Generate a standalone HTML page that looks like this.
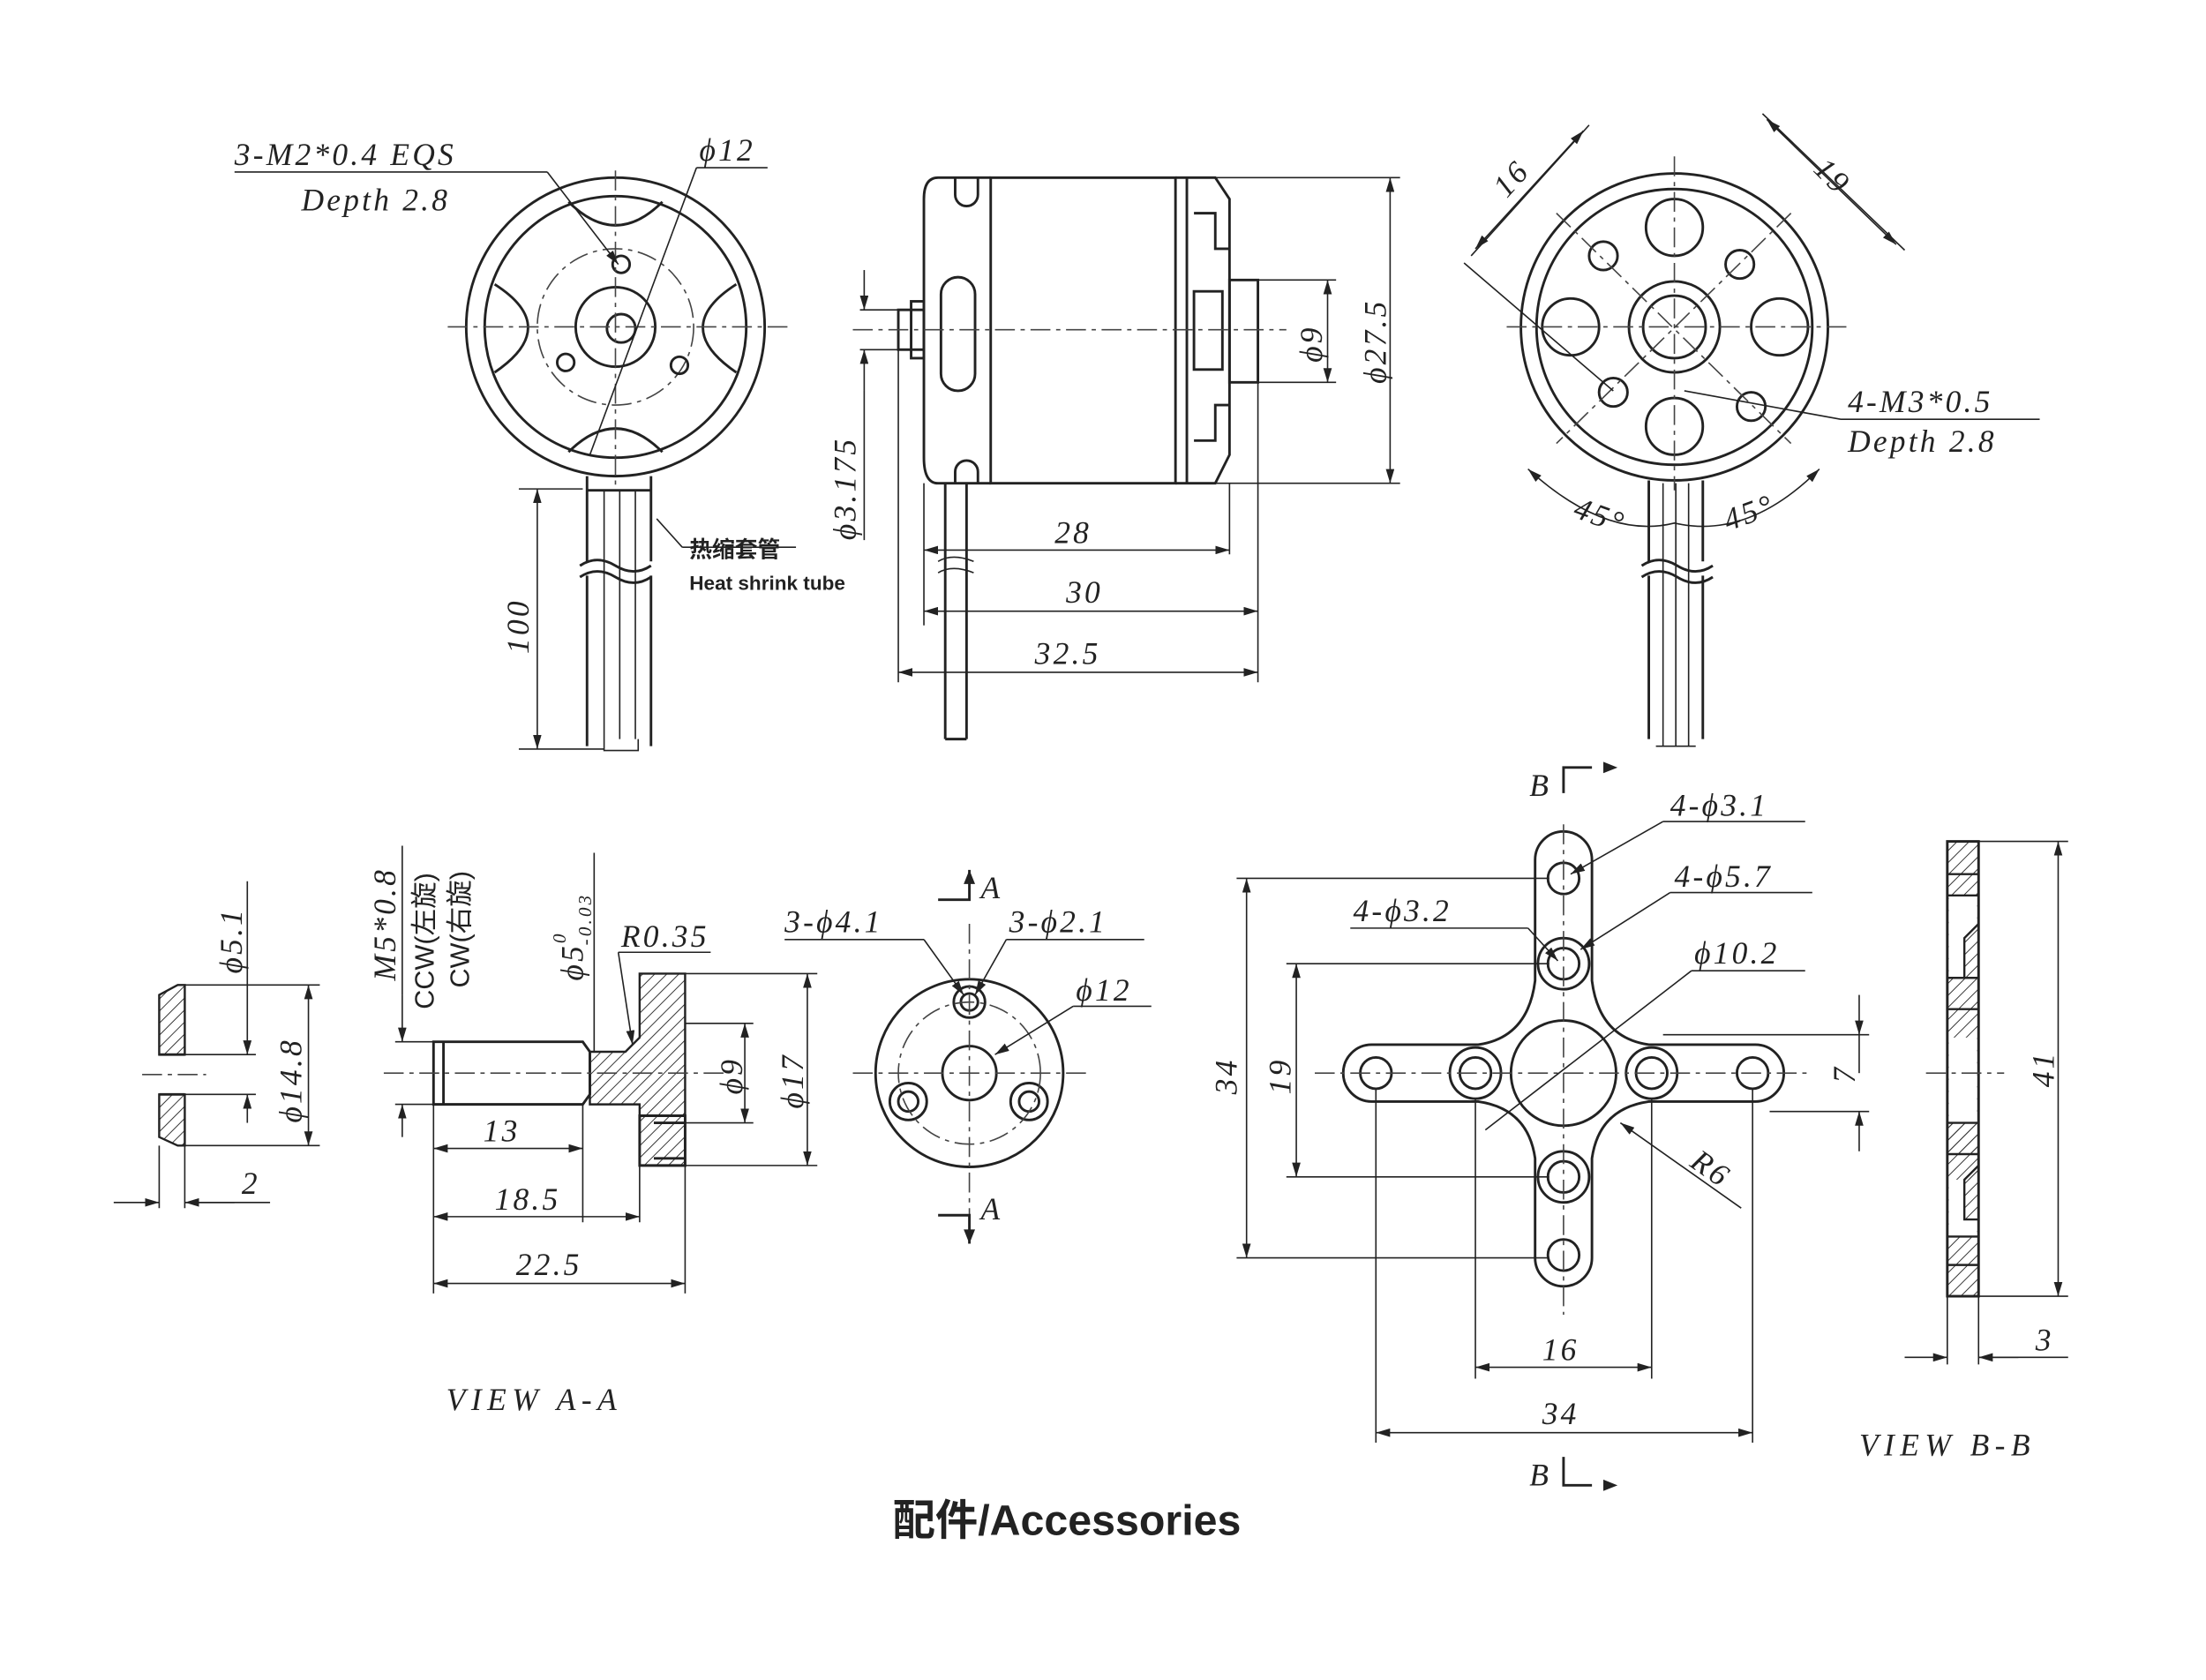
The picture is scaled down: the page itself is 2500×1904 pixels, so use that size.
<!DOCTYPE html>
<html><head><meta charset="utf-8"><style>
html,body{margin:0;padding:0;background:#fff}
svg{display:block}
text{font-family:"Liberation Serif","Noto Serif CJK SC",serif;font-style:italic;font-size:22px;fill:#222;letter-spacing:2px}
.c{fill:none;stroke:#222;stroke-width:1.8}
.t{fill:none;stroke:#222;stroke-width:1}
.d{fill:none;stroke:#444;stroke-width:1;stroke-dasharray:14 4 3 4}
.h{fill:url(#hatch);stroke:#222;stroke-width:1.5}
</style></head><body>
<svg width="2500" height="1904" viewBox="0 0 1552 1182" xmlns="http://www.w3.org/2000/svg">
<defs>
<pattern id="hatch" width="6" height="6" patternUnits="userSpaceOnUse" patternTransform="rotate(45)"><line x1="0" y1="0" x2="0" y2="6" stroke="#333" stroke-width="1.2"/></pattern>
<marker id="a" markerWidth="10" markerHeight="6" refX="10" refY="3" orient="auto-start-reverse"><path d="M0,0 L10,3 L0,6z" fill="#222"/></marker>
</defs>

<!-- FRONT VIEW -->
<g>
<circle class="c" cx="433" cy="230" r="105"/>
<circle class="c" cx="433" cy="230" r="92"/>
<circle class="d" cx="433" cy="230" r="55"/>
<circle class="c" cx="433" cy="230" r="28"/>
<circle class="c" cx="437" cy="231" r="10"/>
<path class="c" d="M400,142 Q433,175 466,142 M348,200 Q395,230 348,262 M518,200 Q471,230 518,262 M400,318 Q433,285 466,318"/>
<circle class="c" cx="437" cy="186" r="6"/><circle class="c" cx="398" cy="255" r="6"/><circle class="c" cx="478" cy="257" r="6"/>
<line class="d" x1="315" y1="230" x2="555" y2="230"/><line class="d" x1="433" y1="120" x2="433" y2="345"/>
<path class="c" d="M413,335 V345 H458 V335 M413,345 V395 M458,345 V395 M413,405 V525 M458,405 V525"/>
<path class="t" d="M425,345 V520 M436,345 V520 M447,345 V520 M425,520 V528 H449 V520"/>
<path class="c" d="M408,398 q12,-8 25,0 t25,0 M408,406 q12,-8 25,0 t25,0"/>
<line class="t" x1="365" y1="344" x2="410" y2="344"/><line class="t" x1="365" y1="527" x2="425" y2="527"/>
<line class="t" x1="378" y1="344" x2="378" y2="527" marker-start="url(#a)" marker-end="url(#a)"/>
<text transform="translate(372,460) rotate(-90)">100</text>
<line class="t" x1="165" y1="121" x2="385" y2="121"/><line class="t" x1="385" y1="121" x2="435" y2="186" marker-end="url(#a)"/>
<text x="165" y="116">3-M2*0.4 EQS</text><text x="212" y="148">Depth 2.8</text>
<line class="t" x1="490" y1="118" x2="540" y2="118"/><line class="t" x1="490" y1="118" x2="415" y2="320" />
<text x="492" y="113">ϕ12</text>
<line class="t" x1="462" y1="365" x2="480" y2="385"/><line class="t" x1="480" y1="385" x2="560" y2="385"/>
<text x="485" y="392" style="font-family:'Liberation Sans','Noto Sans CJK SC',sans-serif;font-style:normal;font-weight:bold;font-size:16px;letter-spacing:0">热缩套管</text>
<text x="485" y="415" style="font-family:'Liberation Sans',sans-serif;font-style:normal;font-weight:bold;font-size:14px;letter-spacing:0">Heat shrink tube</text>
</g>

<!-- SIDE VIEW -->
<g>
<rect class="c" x="697" y="125" width="130" height="215"/>
<path class="c" d="M697,125 H660 Q650,125 650,140 V322 Q650,340 660,340 H697"/>
<path class="c" d="M672,125 v12 a8,8 0 0 0 16,0 v-12 M672,340 v-8 a8,8 0 0 1 16,0 v8"/>
<rect class="c" x="662" y="195" width="24" height="80" rx="12"/>
<path class="c" d="M827,125 H855 L865,140 V320 L855,340 H827 M835,125 V340"/>
<rect class="c" x="865" y="197" width="20" height="72"/>
<path class="c" d="M840,150 h15 v25 h10 M840,310 h15 v-25 h10 M840,205 h20 v55 h-20z"/>
<rect class="c" x="632" y="218" width="18" height="28"/>
<rect class="c" x="641" y="212" width="9" height="40"/>
<line class="d" x1="600" y1="232" x2="905" y2="232"/>
<path class="c" d="M665,340 V520 M680,340 V520 M665,520 H680"/>
<path class="t" d="M660,395 q10,-6 25,0 M660,403 q10,-6 25,0"/>
<path class="t" d="M605,218 H632 M605,246 H632"/>
<line class="t" x1="608" y1="190" x2="608" y2="218" marker-end="url(#a)"/><line class="t" x1="608" y1="275" x2="608" y2="246" marker-end="url(#a)"/>
<line class="t" x1="608" y1="275" x2="608" y2="380"/>
<text transform="translate(602,380) rotate(-90)">ϕ3.175</text>
<path class="t" d="M885,197 H940 M885,269 H940"/>
<line class="t" x1="934" y1="197" x2="934" y2="269" marker-start="url(#a)" marker-end="url(#a)"/>
<text transform="translate(930,255) rotate(-90)">ϕ9</text>
<path class="t" d="M827,125 H985 M827,340 H985"/>
<line class="t" x1="978" y1="125" x2="978" y2="340" marker-start="url(#a)" marker-end="url(#a)"/>
<text transform="translate(975,270) rotate(-90)">ϕ27.5</text>
<path class="t" d="M650,340 V440 M885,269 V480 M865,340 V390 M632,246 V480"/>
<line class="t" x1="650" y1="387" x2="865" y2="387" marker-start="url(#a)" marker-end="url(#a)"/><text x="742" y="382">28</text>
<line class="t" x1="650" y1="430" x2="885" y2="430" marker-start="url(#a)" marker-end="url(#a)"/><text x="750" y="424">30</text>
<line class="t" x1="632" y1="473" x2="885" y2="473" marker-start="url(#a)" marker-end="url(#a)"/><text x="728" y="467">32.5</text>
</g>

<!-- BACK VIEW -->
<g>
<circle class="c" cx="1178" cy="230" r="108"/>
<circle class="c" cx="1178" cy="230" r="97"/>
<circle class="c" cx="1178" cy="230" r="32"/><circle class="c" cx="1178" cy="230" r="22"/>
<circle class="c" cx="1178" cy="160" r="20"/><circle class="c" cx="1178" cy="300" r="20"/>
<circle class="c" cx="1105" cy="230" r="20"/><circle class="c" cx="1252" cy="230" r="20"/>
<circle class="c" cx="1128" cy="180" r="10"/><circle class="c" cx="1224" cy="186" r="10"/>
<circle class="c" cx="1135" cy="276" r="10"/><circle class="c" cx="1232" cy="286" r="10"/>
<line class="d" x1="1060" y1="230" x2="1300" y2="230"/><line class="d" x1="1178" y1="110" x2="1178" y2="345"/>
<line class="d" x1="1095" y1="150" x2="1260" y2="312"/><line class="d" x1="1260" y1="150" x2="1095" y2="312"/>
<path class="c" d="M1160,338 V395 M1198,338 V395 M1160,405 V520 M1198,405 V520"/>
<path class="t" d="M1170,340 V525 M1179,340 V525 M1188,340 V525 M1165,525 H1193"/>
<path class="c" d="M1155,398 q12,-8 25,0 t25,0 M1155,406 q12,-8 25,0 t25,0"/>
<line class="t" x1="1035" y1="180" x2="1118" y2="88"/><line class="t" x1="1135" y1="275" x2="1030" y2="185"/>
<line class="t" x1="1038" y1="175" x2="1114" y2="92" marker-start="url(#a)" marker-end="url(#a)"/>
<text transform="translate(1060,140) rotate(-48)">16</text>
<line class="t" x1="1240" y1="80" x2="1340" y2="176"/>
<line class="t" x1="1243" y1="84" x2="1334" y2="172" marker-start="url(#a)" marker-end="url(#a)"/>
<text transform="translate(1275,120) rotate(45)">19</text>
<path class="t" d="M1075,330 Q1130,380 1178,368 Q1230,380 1280,330" marker-start="url(#a)" marker-end="url(#a)"/>
<text x="1108" y="368" transform="rotate(20 1120 360)">45°</text>
<text x="1212" y="368" transform="rotate(-20 1230 360)">45°</text>
<line class="t" x1="1185" y1="275" x2="1295" y2="295"/><line class="t" x1="1295" y1="295" x2="1435" y2="295"/>
<text x="1300" y="290">4-M3*0.5</text><text x="1300" y="318">Depth 2.8</text>
</g>

<!-- WASHER -->
<g>
<path class="h" d="M112,700 L125,693 H130 V742 H112z"/>
<path class="h" d="M112,770 H130 V806 H125 L112,800z"/>
<path class="c" d="M112,742 H130 M112,770 H130"/>
<line class="d" x1="100" y1="756" x2="145" y2="756"/>
<path class="t" d="M130,693 H225 M130,806 H225 M130,742 H180 M130,770 H180 M112,806 V850 M130,806 V850"/>
<line class="t" x1="174" y1="620" x2="174" y2="742" marker-end="url(#a)"/><line class="t" x1="174" y1="790" x2="174" y2="770" marker-end="url(#a)"/>
<text transform="translate(170,685) rotate(-90)">ϕ5.1</text>
<line class="t" x1="217" y1="693" x2="217" y2="806" marker-start="url(#a)" marker-end="url(#a)"/>
<text transform="translate(212,790) rotate(-90)">ϕ14.8</text>
<line class="t" x1="80" y1="846" x2="112" y2="846" marker-end="url(#a)"/><line class="t" x1="165" y1="846" x2="130" y2="846" marker-end="url(#a)"/>
<line class="t" x1="130" y1="846" x2="190" y2="846"/><text x="170" y="840">2</text>
</g>

<!-- PROP ADAPTER SIDE -->
<g>
<path class="c" d="M305,733 H410 L415,740 V770 L410,777 H305 Z M312,733 V777"/>
<path class="h" d="M415,740 L440,740 L450,730 V685 H482 V820 H450 V777 H415z"/>
<path class="c" d="M450,785 H482 V820 H450z M460,790 H482 M460,815 H482"/>
<line class="d" x1="270" y1="755" x2="510" y2="755"/>
<path class="t" d="M482,685 H575 M482,820 H575 M482,720 H530 M482,790 H530"/>
<line class="t" x1="524" y1="720" x2="524" y2="790" marker-start="url(#a)" marker-end="url(#a)"/>
<text transform="translate(522,770) rotate(-90)">ϕ9</text>
<line class="t" x1="568" y1="685" x2="568" y2="820" marker-start="url(#a)" marker-end="url(#a)"/>
<text transform="translate(565,780) rotate(-90)">ϕ17</text>
<path class="t" d="M278,733 H305 M278,777 H305"/>
<line class="t" x1="283" y1="700" x2="283" y2="733" marker-end="url(#a)"/><line class="t" x1="283" y1="800" x2="283" y2="777" marker-end="url(#a)"/>
<line class="t" x1="283" y1="595" x2="283" y2="700"/>
<text transform="translate(278,690) rotate(-90)">M5*0.8</text>
<text transform="translate(305,710) rotate(-90)" style="font-family:'Liberation Sans','Noto Sans CJK SC',sans-serif;font-style:normal;font-size:19px;letter-spacing:0">CCW(左旋)</text>
<text transform="translate(330,695) rotate(-90)" style="font-family:'Liberation Sans','Noto Sans CJK SC',sans-serif;font-style:normal;font-size:19px;letter-spacing:0">CW(右旋)</text>
<line class="t" x1="418" y1="600" x2="418" y2="740"/>
<text transform="translate(410,690) rotate(-90)">ϕ5<tspan dy="-12" font-size="13">0</tspan><tspan dy="18" dx="-10" font-size="13">-0.03</tspan></text>
<line class="t" x1="435" y1="670" x2="500" y2="670"/><line class="t" x1="435" y1="670" x2="445" y2="735" marker-end="url(#a)"/>
<text x="437" y="666" font-size="18">R0.35</text>
<path class="t" d="M305,777 V910 M410,777 V860 M450,820 V860 M482,820 V910"/>
<line class="t" x1="305" y1="808" x2="410" y2="808" marker-start="url(#a)" marker-end="url(#a)"/><text x="340" y="803">13</text>
<line class="t" x1="305" y1="856" x2="450" y2="856" marker-start="url(#a)" marker-end="url(#a)"/><text x="348" y="851">18.5</text>
<line class="t" x1="305" y1="903" x2="482" y2="903" marker-start="url(#a)" marker-end="url(#a)"/><text x="363" y="897">22.5</text>
<text x="314" y="992" style="letter-spacing:4px">VIEW A-A</text>
</g>

<!-- VIEW A circle -->
<g>
<circle class="c" cx="682" cy="755" r="66"/>
<circle class="c" cx="682" cy="755" r="19"/>
<circle class="c" cx="682" cy="705" r="11"/><circle class="c" cx="682" cy="705" r="6"/>
<circle class="c" cx="639" cy="775" r="13"/><circle class="c" cx="639" cy="775" r="7"/>
<circle class="c" cx="724" cy="775" r="13"/><circle class="c" cx="724" cy="775" r="7"/>
<circle class="d" cx="682" cy="755" r="50"/>
<line class="d" x1="600" y1="755" x2="765" y2="755"/><line class="d" x1="682" y1="650" x2="682" y2="860"/>
<path class="c" d="M660,633 H682 V612 M660,855 H682 V875"/>
<path d="M682,612 l-4,10 h8z M682,875 l-4,-10 h8z" fill="#222"/>
<text x="690" y="632">A</text><text x="690" y="858">A</text>
<line class="t" x1="552" y1="661" x2="650" y2="661"/><line class="t" x1="650" y1="661" x2="678" y2="700" marker-end="url(#a)"/>
<text x="552" y="656">3-ϕ4.1</text>
<line class="t" x1="708" y1="661" x2="805" y2="661"/><line class="t" x1="708" y1="661" x2="686" y2="700" marker-end="url(#a)"/>
<text x="710" y="656">3-ϕ2.1</text>
<line class="t" x1="755" y1="708" x2="810" y2="708"/><line class="t" x1="755" y1="708" x2="700" y2="742" marker-end="url(#a)"/>
<text x="757" y="704">ϕ12</text>
</g>

<!-- CROSS MOUNT -->
<g>
<path class="c" d="M1080,605 A20,20 0 0 1 1120,605 V690 Q1125,730 1160,735 H1235 A20,20 0 0 1 1235,775 H1160 Q1125,780 1120,815 V885 A20,20 0 0 1 1080,885 V815 Q1075,780 1040,775 H965 A20,20 0 0 1 965,735 H1040 Q1075,730 1080,690 Z"/>
<circle class="c" cx="1100" cy="755" r="37"/>
<circle class="c" cx="1100" cy="618" r="11"/>
<circle class="c" cx="1100" cy="678" r="18"/><circle class="c" cx="1100" cy="678" r="11"/>
<circle class="c" cx="1100" cy="828" r="18"/><circle class="c" cx="1100" cy="828" r="11"/>
<circle class="c" cx="1100" cy="883" r="11"/>
<circle class="c" cx="1038" cy="755" r="18"/><circle class="c" cx="1038" cy="755" r="11"/>
<circle class="c" cx="1162" cy="755" r="18"/><circle class="c" cx="1162" cy="755" r="11"/>
<circle class="c" cx="968" cy="755" r="11"/><circle class="c" cx="1233" cy="755" r="11"/>
<line class="d" x1="925" y1="755" x2="1275" y2="755"/><line class="d" x1="1100" y1="580" x2="1100" y2="925"/>
<path class="c" d="M1100,558 V540 H1120 M1100,1025 V1045 H1120"/>
<path d="M1138,540 l-10,-4 v8z M1138,1045 l-10,-4 v8z" fill="#222"/>
<text x="1076" y="560">B</text><text x="1076" y="1045">B</text>
<path class="t" d="M870,618 H1090 M870,885 H1090 M905,678 H1090 M905,828 H1090"/>
<line class="t" x1="877" y1="618" x2="877" y2="885" marker-start="url(#a)" marker-end="url(#a)"/>
<text transform="translate(870,770) rotate(-90)">34</text>
<line class="t" x1="912" y1="678" x2="912" y2="828" marker-start="url(#a)" marker-end="url(#a)"/>
<text transform="translate(908,770) rotate(-90)">19</text>
<path class="t" d="M1170,728 H1315 M1245,782 H1315"/>
<line class="t" x1="1308" y1="728" x2="1308" y2="755"/><line class="t" x1="1308" y1="700" x2="1308" y2="728" marker-end="url(#a)"/>
<line class="t" x1="1308" y1="810" x2="1308" y2="782" marker-end="url(#a)"/>
<text transform="translate(1305,762) rotate(-90)">7</text>
<path class="t" d="M1038,773 V970 M1162,773 V970 M968,766 V1015 M1233,766 V1015"/>
<line class="t" x1="1038" y1="962" x2="1162" y2="962" marker-start="url(#a)" marker-end="url(#a)"/><text x="1085" y="957">16</text>
<line class="t" x1="968" y1="1008" x2="1233" y2="1008" marker-start="url(#a)" marker-end="url(#a)"/><text x="1085" y="1002">34</text>
<line class="t" x1="1170" y1="578" x2="1270" y2="578"/><line class="t" x1="1170" y1="578" x2="1105" y2="615" marker-end="url(#a)"/>
<text x="1175" y="574">4-ϕ3.1</text>
<line class="t" x1="1175" y1="628" x2="1275" y2="628"/><line class="t" x1="1175" y1="628" x2="1112" y2="668" marker-end="url(#a)"/>
<text x="1178" y="624">4-ϕ5.7</text>
<line class="t" x1="950" y1="653" x2="1075" y2="653"/><line class="t" x1="1075" y1="653" x2="1096" y2="676" marker-end="url(#a)"/>
<text x="952" y="648">4-ϕ3.2</text>
<line class="t" x1="1190" y1="683" x2="1270" y2="683"/><line class="t" x1="1190" y1="683" x2="1045" y2="795"/>
<text x="1192" y="678">ϕ10.2</text>
<line class="t" x1="1225" y1="850" x2="1140" y2="790" marker-end="url(#a)"/>
<text transform="translate(1188,820) rotate(35)">R6</text>
</g>

<!-- VIEW B-B -->
<g>
<rect class="h" x="1370" y="592" width="22" height="320"/>
<rect x="1371" y="615" width="20" height="95" fill="#fff"/>
<rect x="1371" y="730" width="20" height="60" fill="#fff"/>
<rect x="1371" y="830" width="20" height="60" fill="#fff"/>
<rect class="c" x="1370" y="592" width="22" height="320" fill="none"/>
<path class="h" d="M1370,615 H1392 V630 H1370z M1370,688 H1392 V710 H1370z M1382,660 L1392,650 V688 H1382z M1370,790 H1392 V812 H1370z M1382,830 L1392,820 V858 H1382z M1370,870 H1392 V890 H1370z"/>
<line class="d" x1="1355" y1="755" x2="1410" y2="755"/>
<path class="t" d="M1392,592 H1455 M1392,912 H1455 M1370,912 V960 M1392,912 V960"/>
<line class="t" x1="1448" y1="592" x2="1448" y2="912" marker-start="url(#a)" marker-end="url(#a)"/>
<text transform="translate(1445,765) rotate(-90)">41</text>
<line class="t" x1="1340" y1="955" x2="1370" y2="955" marker-end="url(#a)"/><line class="t" x1="1420" y1="955" x2="1392" y2="955" marker-end="url(#a)"/>
<line class="t" x1="1392" y1="955" x2="1455" y2="955"/><text x="1432" y="950">3</text>
<text x="1308" y="1024" style="letter-spacing:4px">VIEW B-B</text>
</g>

<text x="628" y="1080" style="font-family:'Liberation Sans','Noto Sans CJK SC',sans-serif;font-style:normal;font-weight:bold;font-size:30px;letter-spacing:0">配件/Accessories</text>
</svg>
</body></html>
